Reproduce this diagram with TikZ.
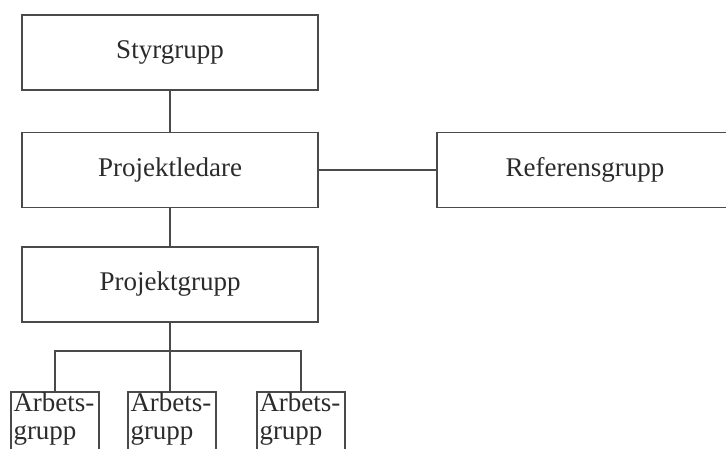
\documentclass[tikz,border=0pt]{standalone}
\usepackage{fontspec}
\setmainfont{Liberation Serif}
\usetikzlibrary{positioning}
\definecolor{linegray}{HTML}{4A4A4A}
\definecolor{textgray}{HTML}{2B2B2B}
\tikzset{
  box/.style={draw=linegray, line width=1.8pt, minimum width=296pt, minimum height=75pt,
    text=textgray, font=\fontsize{27}{30}\selectfont},
  smallbox/.style={draw=linegray, line width=1.8pt, anchor=north, text width=83pt,
    inner xsep=2.5pt, inner ysep=1pt, text depth=48pt, align=left, text=textgray,
    font=\fontsize{27}{28}\selectfont},
  link/.style={draw=linegray, line width=1.8pt}
}
\begin{document}
\begin{tikzpicture}[x=1pt,y=-1pt]
    \useasboundingbox (0,0) rectangle (726,448);
    \clip (0,0) rectangle (726,448);

    \node[box] (styr) at (170,52.5) {Styrgrupp};
    \node[box] (pl) at (170,170) {Projektledare};
    \node[box] (ref) at (585,170) {Referensgrupp};
    \node[box] (pg) at (170,284.5) {Projektgrupp};

    % small boxes run off the bottom edge
    \node[smallbox] (ag1) at (55,391) {Arbets-\\grupp};
    \node[smallbox] (ag2) at (172,391) {Arbets-\\grupp};
    \node[smallbox] (ag3) at (301,391) {Arbets-\\grupp};

    \coordinate (bus) at (170,351);

    \draw[link] (styr) -- (pl);
    \draw[link] (pl) -- (ref);
    \draw[link] (pl) -- (pg);
    \draw[link] (pg.south) -- (pg.south |- ag2.north);
    \draw[link] (ag1.north) |- (bus) -| (ag3.north);
\end{tikzpicture}
\end{document}
